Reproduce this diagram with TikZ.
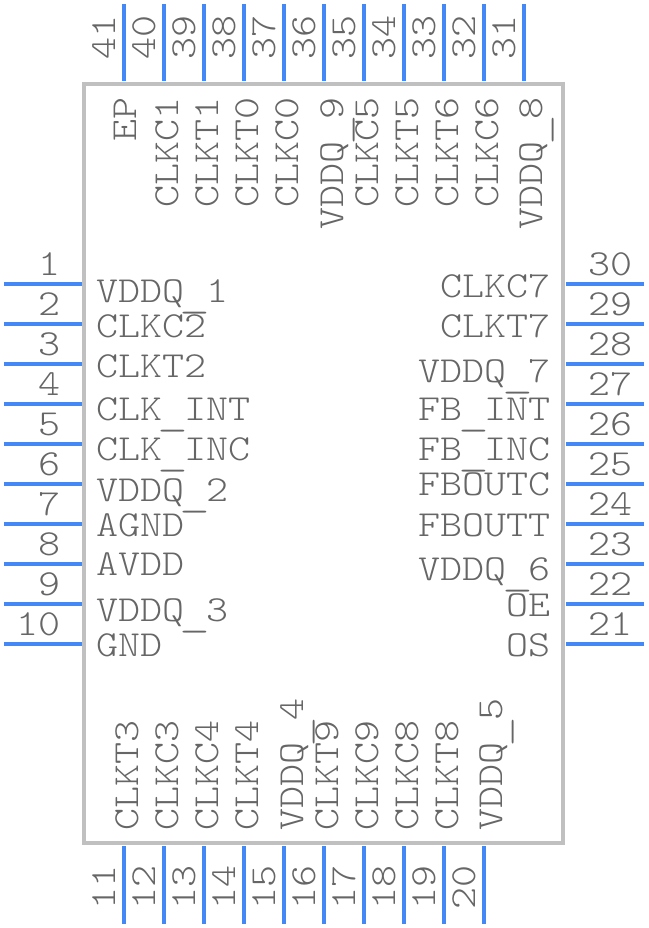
\documentclass[tikz,border=0pt]{standalone}
\usepackage{fontspec}
\setmonofont[FakeStretch=1.143]{Latin Modern Mono Light}
\definecolor{pinblue}{HTML}{4488F5}
\definecolor{bodygray}{HTML}{C0C0C0}
\definecolor{textgray}{HTML}{666666}
\newcommand{\us}{\makebox[22.02pt]{\raisebox{-5pt}{\scalebox{1.4}[1]{\_}}}}
\tikzset{
  pin/.style={draw=pinblue, line width=4pt},
  chip/.style={draw=bodygray, line width=4pt, inner sep=0, minimum width=479pt, minimum height=759pt},
  txt/.style={text=textgray, inner sep=0, font=\ttfamily\fontsize{36.7}{36.7}\selectfont},
  lbl/.style={txt, anchor=base west},
  rbl/.style={txt, anchor=base east},
}
\begin{document}
\begin{tikzpicture}[x=1pt, y=1pt]
\useasboundingbox (0,0) rectangle (648,-928);

%draw the body
\node[chip] (body) at (323.5,-463.5) {};

%left and right pins
\foreach \n in {1,...,10} {
  \coordinate (a\n) at (4,-244-40*\n);
  \coordinate (b\n) at (82,-244-40*\n);
  \draw[pin] (a\n) -- (b\n);
  \node[rbl] (num\n) at (61,-235-40*\n) {\n};
}
\foreach \n in {21,...,30} {
  \coordinate (a\n) at (566,-1484+40*\n);
  \coordinate (b\n) at (644,-1484+40*\n);
  \draw[pin] (a\n) -- (b\n);
  \node[lbl] (num\n) at (588,-1475+40*\n) {\n};
}

%top and bottom pins
\foreach \n in {11,...,20} {
  \coordinate (a\n) at (-316+40*\n,-846);
  \coordinate (b\n) at (-316+40*\n,-924);
  \draw[pin] (a\n) -- (b\n);
  \node[lbl, rotate=90] (num\n) at (-325+40*\n,-910) {\n};
}
\foreach \n in {31,...,41} {
  \coordinate (a\n) at (1764-40*\n,-4);
  \coordinate (b\n) at (1764-40*\n,-81);
  \draw[pin] (a\n) -- (b\n);
  \node[lbl, rotate=90] (num\n) at (1755-40*\n,-60) {\n};
}

%left labels
\foreach \name/\t/\y in {l1/VDDQ\us 1/302, l2/CLKC2/337, l3/CLKT2/377, l4/CLK\us INT/420,
    l5/CLK\us INC/460, l6/VDDQ\us 2/501, l7/AGND/536, l8/AVDD/575, l9/VDDQ\us 3/621, l10/GND/656}
  \node[lbl] (\name) at (96,-\y) {\t};

%right labels
\foreach \name/\t/\y in {r30/CLKC7/297, r29/CLKT7/337, r28/VDDQ\us 7/382, r27/FB\us INT/420,
    r26/FB\us INC/460, r25/FBOUTC/495, r24/FBOUTT/536, r23/VDDQ\us 6/580, r22/OE/616, r21/OS/656}
  \node[rbl] (\name) at (551,-\y) {\t};

%top labels
\foreach \name/\t/\x in {t41/EP/136, t40/CLKC1/178, t39/CLKT1/218, t38/CLKT0/258, t37/CLKC0/298,
    t36/VDDQ\us 9/343, t35/CLKC5/378, t34/CLKT5/418, t33/CLKT6/458, t32/CLKC6/498, t31/VDDQ\us 8/542}
  \node[rbl, rotate=90] (\name) at (\x,-97) {\t};

%bottom labels
\foreach \name/\t/\x in {b11/CLKT3/138, b12/CLKC3/178, b13/CLKC4/218, b14/CLKT4/258, b15/VDDQ\us 4/303,
    b16/CLKT9/338, b17/CLKC9/378, b18/CLKC8/418, b19/CLKT8/458, b20/VDDQ\us 5/502}
  \node[lbl, rotate=90] (\name) at (\x,-831) {\t};

\end{tikzpicture}
\end{document}
